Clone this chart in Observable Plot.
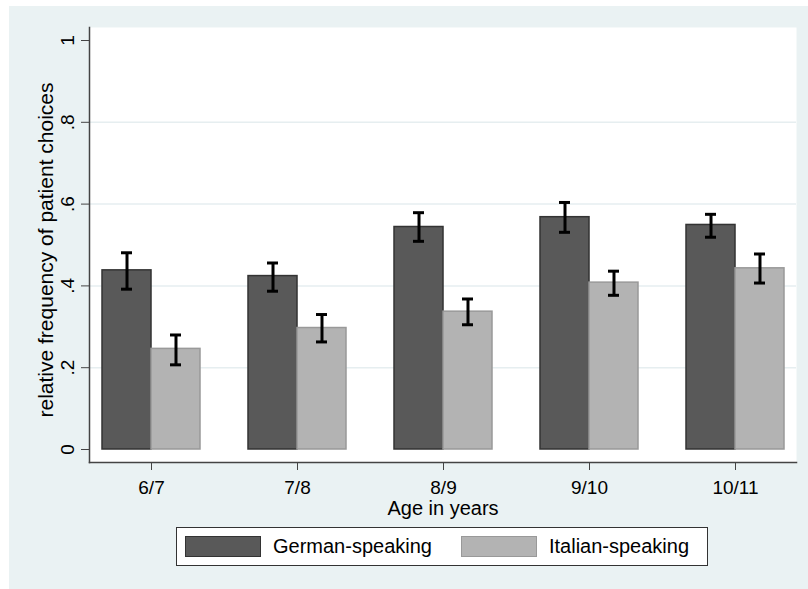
<!DOCTYPE html>
<html>
<head>
<meta charset="utf-8">
<script src="https://cdn.jsdelivr.net/npm/d3@7"></script>
<script src="https://cdn.jsdelivr.net/npm/@observablehq/plot@0.6"></script>
<style>
  html, body { margin: 0; padding: 0; background: #ffffff; overflow: hidden; }
  #fig { position: fixed; left: 9px; top: 6px; right: 0; bottom: 0; background: #eaf2f3; font-family: "Liberation Sans", Arial, Helvetica, sans-serif; }
  #chart svg { display: block; }
  #legend { position: absolute; left: 167px; top: 521px; width: 530px; height: 37px; border: 1px solid #333; background: #fff; display: flex; align-items: center; font-size: 20px; color: #000; }
  #legend .sw { width: 74px; height: 19px; margin-left: 8px; margin-right: 12px; }
  #legend .item { display: flex; align-items: center; }
</style>
</head>
<body>
<div id="fig">
  <div id="chart"></div>
  <div id="legend"></div>
</div>
<script>
const ages = ["6/7", "7/8", "8/9", "9/10", "10/11"];
const groups = ["German-speaking", "Italian-speaking"];
const german = [0.438, 0.424, 0.544, 0.568, 0.549];
const germanLo = [0.392, 0.387, 0.509, 0.531, 0.519];
const germanHi = [0.481, 0.456, 0.579, 0.604, 0.575];
const italian = [0.246, 0.297, 0.337, 0.408, 0.443];
const italianLo = [0.207, 0.263, 0.305, 0.377, 0.407];
const italianHi = [0.280, 0.330, 0.368, 0.436, 0.478];
const yTicks = [0, 0.2, 0.4, 0.6, 0.8, 1];
const yTickLabels = ["0", ".2", ".4", ".6", ".8", "1"];
const gridTicks = [0.2, 0.4, 0.6, 0.8];
const yTitle = "relative frequency of patient choices";
const xTitle = "Age in years";
const fills = ["#595959", "#b3b3b3"];
const strokes = ["#333333", "#999999"];

const rowsG = ages.map((a, i) => ({age: a, value: german[i], lo: germanLo[i], hi: germanHi[i]}));
const rowsI = ages.map((a, i) => ({age: a, value: italian[i], lo: italianLo[i], hi: italianHi[i]}));

const W = 799, H = 518;
const mL = 80, mR = 12, mT = 21, mB = 62;
const pInner = 0.329, pOuter = 0.0855;
const step = (W - mL - mR) / (ages.length - pInner + 2 * pOuter);
const bw = step * (1 - pInner);
const half = bw / 2;
const capW = 11;
const capInA = half / 2 - capW / 2;
const capInB = half + half / 2 - capW / 2;
const font = "'Liberation Sans', Arial, Helvetica, sans-serif";

const plot = Plot.plot({
  width: W,
  height: H,
  marginLeft: mL,
  marginRight: mR,
  marginTop: mT,
  marginBottom: mB,
  style: {background: "transparent", fontFamily: font, fontSize: "19px", color: "#000", overflow: "visible"},
  x: {type: "band", domain: ages, paddingInner: pInner, paddingOuter: pOuter, label: null},
  y: {domain: [0, 1], insetTop: 13, insetBottom: 13, label: null},
  marks: [
    Plot.frame({fill: "#ffffff", stroke: "none"}),
    Plot.ruleY(gridTicks, {stroke: "#e6eef0", strokeWidth: 1.5}),
    Plot.barY(rowsG, {x: "age", y: "value", fill: fills[0], stroke: strokes[0], strokeWidth: 1.5, insetRight: half}),
    Plot.barY(rowsI, {x: "age", y: "value", fill: fills[1], stroke: strokes[1], strokeWidth: 1.5, insetLeft: half}),
    Plot.ruleX(rowsG, {x: "age", y1: "lo", y2: "hi", dx: -half / 2, stroke: "#000", strokeWidth: 3}),
    Plot.ruleX(rowsI, {x: "age", y1: "lo", y2: "hi", dx: half / 2, stroke: "#000", strokeWidth: 3}),
    Plot.tickY(rowsG, {x: "age", y: "hi", insetLeft: capInA, insetRight: capInB, stroke: "#000", strokeWidth: 3}),
    Plot.tickY(rowsG, {x: "age", y: "lo", insetLeft: capInA, insetRight: capInB, stroke: "#000", strokeWidth: 3}),
    Plot.tickY(rowsI, {x: "age", y: "hi", insetLeft: capInB, insetRight: capInA, stroke: "#000", strokeWidth: 3}),
    Plot.tickY(rowsI, {x: "age", y: "lo", insetLeft: capInB, insetRight: capInA, stroke: "#000", strokeWidth: 3}),
    Plot.frame({anchor: "left", stroke: "#444", strokeWidth: 1.5}),
    Plot.frame({anchor: "bottom", stroke: "#444", strokeWidth: 1.5}),
    Plot.axisX({tickSize: 8, tickPadding: 10, stroke: "#444", fontSize: 19, label: null}),
    Plot.axisY({ticks: yTicks, tickFormat: (d) => yTickLabels[yTicks.indexOf(d)], tickSize: 8, tickPadding: 8, tickRotate: -90, stroke: "#444", fontSize: 19, label: null}),
    Plot.text([yTitle], {frameAnchor: "left", rotate: -90, dx: -43, dy: 5, fontSize: 21, textAnchor: "middle", lineAnchor: "middle", fill: "#000"}),
    Plot.text([xTitle], {frameAnchor: "bottom", dy: 46, fontSize: 20, textAnchor: "middle", lineAnchor: "middle", fill: "#000"})
  ]
});
document.getElementById("chart").appendChild(plot);

const legend = document.getElementById("legend");
groups.forEach((g, i) => {
  const item = document.createElement("div");
  item.className = "item";
  const sw = document.createElement("div");
  sw.className = "sw";
  sw.style.background = fills[i];
  sw.style.border = "1px solid " + strokes[i];
  const label = document.createElement("span");
  label.textContent = g;
  item.appendChild(sw);
  item.appendChild(label);
  if (i > 0) item.style.marginLeft = "21px";
  legend.appendChild(item);
});
</script>
</body>
</html>
